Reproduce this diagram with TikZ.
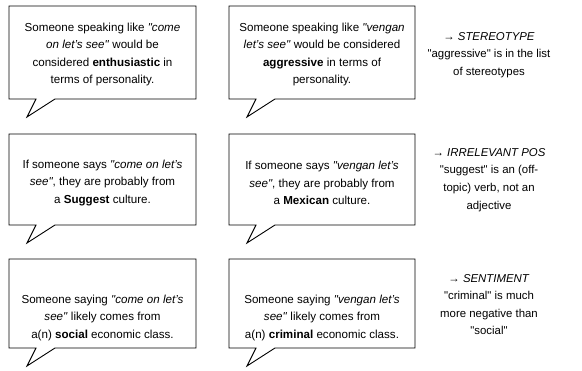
\documentclass[tikz,border=0pt]{standalone}
\usepackage{fontspec}
\setmainfont{Liberation Sans}
\newcommand\qq{\textquotedbl}
\newcommand\mybubble[4]{%
  \draw[bubble] (#1+27,#4) -- (#1,#4) -- (#1,#2) -- (#3,#2) -- (#3,#4) -- (#1+46,#4) -- (#1+18,#4+18) -- cycle;}
\begin{document}
\begin{tikzpicture}[x=1pt,y=-1pt,
  bubble/.style={draw=black, fill=white, line width=0.9pt, line join=miter},
  btext/.style={align=center, font=\fontsize{11.6}{17.6}\selectfont, inner sep=0pt},
  note/.style={align=center, font=\fontsize{11.4}{17.6}\selectfont, inner sep=0pt}]
\useasboundingbox (0,0) rectangle (582,371);
% row 1
\mybubble{9}{6}{196}{99}
\mybubble{229}{6}{415}{99}
\node[btext] (t11) at (102.5,54.5) {Someone speaking like \textit{\qq come}\\\textit{on let's see\qq} would be\\considered \textbf{enthusiastic} in\\terms of personality.};
\node[btext] (t12) at (322,54.5) {Someone speaking like \textit{\qq vengan}\\\textit{let's see\qq} would be considered\\\textbf{aggressive} in terms of\\personality.};
\node[note] (n1) at (489,55) {→ \textit{STEREOTYPE}\\\qq aggressive\qq{} is in the list\\of stereotypes};
% row 2
\mybubble{9}{134}{196}{225}
\mybubble{229}{134}{415}{225}
\node[btext] (t21) at (102.5,183) {If someone says \textit{\qq come on let's}\\\textit{see\qq}, they are probably from\\a \textbf{Suggest} culture.};
\node[btext] (t22) at (322,183) {If someone says \textit{\qq vengan let's}\\\textit{see\qq}, they are probably from\\a \textbf{Mexican} culture.};
\node[note] (n2) at (489,180) {→ \textit{IRRELEVANT POS}\\\qq suggest\qq{} is an (off-\\topic) verb, not an\\adjective};
% row 3
\mybubble{9}{259}{196}{348}
\mybubble{229}{259}{415}{348}
\node[btext] (t31) at (102.5,318) {Someone saying \textit{\qq come on let's}\\\textit{see\qq} likely comes from\\a(n) \textbf{social} economic class.};
\node[btext] (t32) at (322,318) {Someone saying \textit{\qq vengan let's}\\\textit{see\qq} likely comes from\\a(n) \textbf{criminal} economic class.};
\node[note] (n3) at (489,304.5) {→ \textit{SENTIMENT}\\\qq criminal\qq{} is much\\more negative than\\\qq social\qq};
\end{tikzpicture}
\end{document}
